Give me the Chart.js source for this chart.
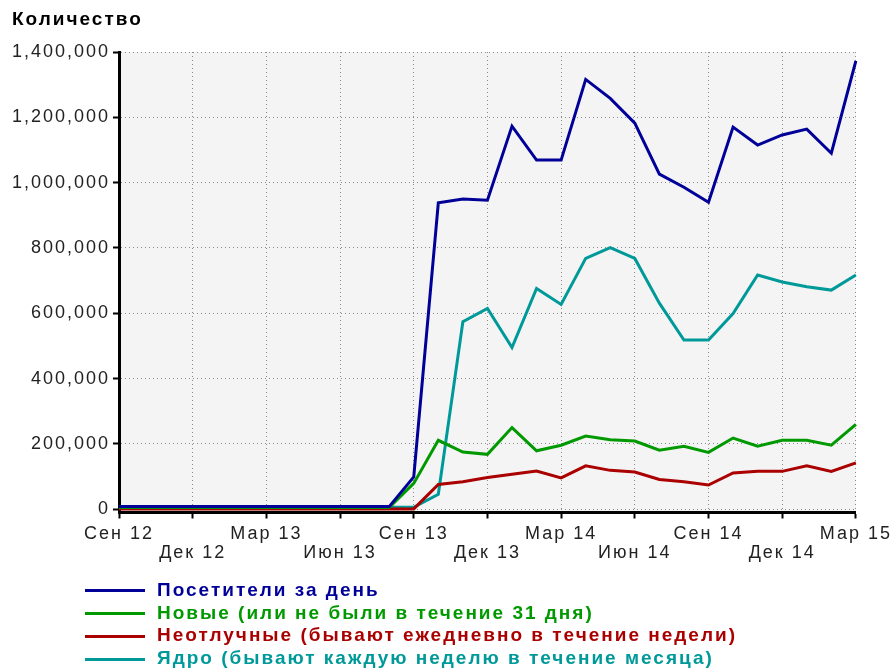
<!DOCTYPE html>
<html>
<head>
<meta charset="utf-8">
<script src="https://cdn.jsdelivr.net/npm/chart.js@4/dist/chart.umd.min.js"></script>
<style>
  body { margin: 0; background: #fff; }
  #wrap { position: relative; width: 892px; height: 672px; }
  #title { position: absolute; left: 12px; top: 8px; font: bold 19px "Liberation Sans", Arial, sans-serif; letter-spacing: 2px; color: #000; }
  #legend { position: absolute; left: 85px; top: 579px; font: bold 19px "Liberation Sans", Arial, sans-serif; letter-spacing: 2px; }
  #legend div { height: 22.7px; line-height: 22.7px; white-space: nowrap; }
  #legend span.ln { display: inline-block; width: 60px; height: 3px; vertical-align: middle; margin-right: 12px; }
</style>
</head>
<body>
<div id="wrap">
  <canvas id="myChart" width="892" height="672"></canvas>
  <div id="title">Количество</div>
  <div id="legend"></div>
</div>
<script>
// months Sep 12 .. Mar 15
var months = ['Сен 12','Окт 12','Ноя 12','Дек 12','Янв 13','Фев 13','Мар 13','Апр 13','Май 13','Июн 13','Июл 13','Авг 13',
              'Сен 13','Окт 13','Ноя 13','Дек 13','Янв 14','Фев 14','Мар 14','Апр 14','Май 14','Июн 14','Июл 14','Авг 14',
              'Сен 14','Окт 14','Ноя 14','Дек 14','Янв 15','Фев 15','Мар 15'];

var visitors = [8000,8000,8000,8000,8000,8000,8000,8000,8000,8000,8000,8000,
                99000,938000,950000,946000,1173000,1069000,1069000,1316000,1258000,1182000,1026000,986000,
                940000,1170000,1115000,1146000,1164000,1090000,1373000];
var newOnes = [5000,5000,5000,5000,5000,5000,5000,5000,5000,5000,5000,5000,
               79000,211000,175000,168000,250000,179000,196000,224000,213000,209000,181000,193000,
               174000,218000,193000,211000,211000,196000,260000];
var daily = [1000,1000,1000,1000,1000,1000,1000,1000,1000,1000,1000,1000,
             1000,76000,84000,97000,107000,117000,96000,133000,119000,114000,91000,84000,
             74000,111000,116000,116000,133000,116000,142000];
var core = [6000,6000,6000,6000,6000,6000,6000,6000,6000,6000,6000,6000,
            6000,46000,574000,615000,495000,676000,627000,768000,801000,768000,631000,518000,
            518000,599000,717000,696000,681000,671000,717000];

var yTicks = [0,200000,400000,600000,800000,1000000,1200000,1400000];

var seriesNames = ['Посетители за день', 'Новые (или не были в течение 31 дня)',
                   'Неотлучные (бывают ежедневно в течение недели)', 'Ядро (бывают каждую неделю в течение месяца)'];
var seriesColors = ['#000099', '#009900', '#aa0000', '#009999'];
var seriesData = [visitors, newOnes, daily, core];

/* plot background + letter spacing */
var plotBg = {
    id: 'plotBg',
    beforeDraw: function(chart){
        var c = chart.ctx, a = chart.chartArea;
        c.save();
        c.fillStyle = '#f4f4f4';
        c.fillRect(a.left, a.top, a.right - a.left, a.bottom - a.top);
        c.restore();
        c.letterSpacing = '2px';
    }
};

var ctx = document.getElementById('myChart');
var chart = new Chart(ctx, {
    type: 'line',
    data: {
        labels: months,
        datasets: seriesData.map(function(d, i){
            return {
                label: seriesNames[i],
                data: d,
                borderColor: seriesColors[i],
                backgroundColor: seriesColors[i],
                borderWidth: 3,
                pointRadius: 0,
                tension: 0,
                fill: false
            };
        })
    },
    options: {
        responsive: false,
        animation: false,
        devicePixelRatio: 1,
        layout: { padding: { left: 12, right: 36, top: 52, bottom: 0 } },
        plugins: { legend: { display: false }, tooltip: { enabled: false } },
        scales: {
            x: {
                type: 'category',
                offset: false,
                afterBuildTicks: function(scale){
                    scale.ticks = scale.ticks.filter(function(t, i){ return i % 3 === 0; });
                },
                afterFit: function(scale){ scale.height = 159.5; },
                grid: { color: '#8a8a8a', lineWidth: 1, tickLength: 6, tickColor: '#000', tickWidth: 2 },
                border: { color: '#000', width: 3, dash: [1, 3] },
                ticks: {
                    autoSkip: false,
                    maxRotation: 0,
                    padding: 6,
                    color: '#222',
                    font: { family: '"Liberation Sans", Arial, sans-serif', size: 18, lineHeight: 1.06 },
                    callback: function(value, index){
                        var lbl = this.getLabelForValue(value);
                        return index % 2 === 0 ? [lbl] : ['', lbl];
                    }
                }
            },
            y: {
                min: -10000,
                max: 1400000,
                afterBuildTicks: function(scale){
                    scale.ticks = yTicks.map(function(v){ return { value: v }; });
                },
                afterFit: function(scale){ scale.width = 107; },
                grid: { color: '#8a8a8a', lineWidth: 1, tickLength: 6, tickColor: '#000', tickWidth: 2 },
                border: { color: '#000', width: 3, dash: [1, 3] },
                ticks: {
                    padding: 3,
                    color: '#222',
                    font: { family: '"Liberation Sans", Arial, sans-serif', size: 18 },
                    callback: function(v){ return v.toLocaleString('en-US'); }
                }
            }
        }
    },
    plugins: [plotBg]
});

/* legend */
var legend = document.getElementById('legend');
seriesNames.forEach(function(name, i){
    var row = document.createElement('div');
    row.style.color = seriesColors[i];
    row.innerHTML = '<span class="ln" style="background:' + seriesColors[i] + '"></span>' + name;
    legend.appendChild(row);
});
</script>
</body>
</html>
